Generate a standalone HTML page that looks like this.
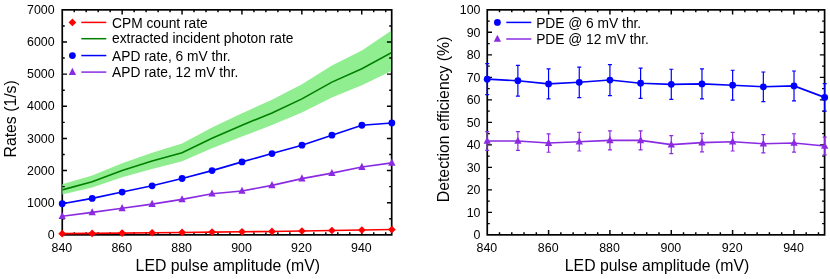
<!DOCTYPE html>
<html><head><meta charset="utf-8"><title>chart</title>
<style>html,body{margin:0;padding:0;background:#fff}body{width:830px;height:279px;overflow:hidden}</style></head>
<body>
<svg width="830" height="279" viewBox="0 0 830 279" style="display:block;will-change:transform;font-family:'Liberation Sans',sans-serif">
<rect width="830" height="279" fill="#fff"/>
<clipPath id="c1"><rect x="62.2" y="9.85" width="328.9" height="225"/></clipPath>
<rect x="62.25" y="9.85" width="329.45" height="225" fill="none" stroke="#000" stroke-width="1.7"/>
<g clip-path="url(#c1)"><polygon points="62.2,184.16 92.17,175.51 122.14,163.14 152.1,152.69 182.07,143.47 212.04,127.62 242.01,113.25 271.98,99.72 301.95,84.2 331.91,65.62 361.88,50.38 391.85,30.16 391.85,70.66 361.88,85.32 331.91,97.38 301.95,112.48 271.98,125.08 242.01,136.49 212.04,148.22 182.07,161.24 152.1,168.89 122.14,177.31 92.17,187.44 62.2,194.48" fill="#90ee90"/>
<polyline points="62.2,189.85 92.17,181.81 122.14,170.47 152.1,161.08 182.07,152.72 212.04,138.26 242.01,125.24 271.98,112.9 301.95,98.89 331.91,82.11 361.88,68.7 391.85,52.41" fill="none" stroke="#007f00" stroke-width="1.62"/></g>
<path d="M74.23 234.85v-2.5M74.23 9.85v2.5M86.21 234.85v-2.5M86.21 9.85v2.5M98.19 234.85v-2.5M98.19 9.85v2.5M110.17 234.85v-2.5M110.17 9.85v2.5M122.15 234.85v-4.75M122.15 9.85v4.75M134.13 234.85v-2.5M134.13 9.85v2.5M146.11 234.85v-2.5M146.11 9.85v2.5M158.09 234.85v-2.5M158.09 9.85v2.5M170.07 234.85v-2.5M170.07 9.85v2.5M182.05 234.85v-4.75M182.05 9.85v4.75M194.03 234.85v-2.5M194.03 9.85v2.5M206.01 234.85v-2.5M206.01 9.85v2.5M217.99 234.85v-2.5M217.99 9.85v2.5M229.97 234.85v-2.5M229.97 9.85v2.5M241.95 234.85v-4.75M241.95 9.85v4.75M253.93 234.85v-2.5M253.93 9.85v2.5M265.91 234.85v-2.5M265.91 9.85v2.5M277.89 234.85v-2.5M277.89 9.85v2.5M289.87 234.85v-2.5M289.87 9.85v2.5M301.85 234.85v-4.75M301.85 9.85v4.75M313.83 234.85v-2.5M313.83 9.85v2.5M325.81 234.85v-2.5M325.81 9.85v2.5M337.79 234.85v-2.5M337.79 9.85v2.5M349.77 234.85v-2.5M349.77 9.85v2.5M361.75 234.85v-4.75M361.75 9.85v4.75M373.73 234.85v-2.5M373.73 9.85v2.5M385.71 234.85v-2.5M385.71 9.85v2.5M62.25 218.78h2.5M391.7 218.78h-2.5M62.25 202.71h4.75M391.7 202.71h-4.75M62.25 186.64h2.5M391.7 186.64h-2.5M62.25 170.56h4.75M391.7 170.56h-4.75M62.25 154.49h2.5M391.7 154.49h-2.5M62.25 138.42h4.75M391.7 138.42h-4.75M62.25 122.35h2.5M391.7 122.35h-2.5M62.25 106.28h4.75M391.7 106.28h-4.75M62.25 90.21h2.5M391.7 90.21h-2.5M62.25 74.14h4.75M391.7 74.14h-4.75M62.25 58.06h2.5M391.7 58.06h-2.5M62.25 41.99h4.75M391.7 41.99h-4.75M62.25 25.92h2.5M391.7 25.92h-2.5" stroke="#000" stroke-width="1.45" fill="none"/>
<polyline points="62.2,203.77 92.17,198.4 122.14,192.04 152.1,185.8 182.07,178.5 212.04,170.6 242.01,161.89 271.98,153.56 301.95,145.17 331.91,135.21 361.88,125.24 391.85,122.99" fill="none" stroke="#0000ff" stroke-width="1.62"/>
<circle cx="62.2" cy="203.77" r="3.4" fill="#0000ff"/>
<circle cx="92.17" cy="198.4" r="3.4" fill="#0000ff"/>
<circle cx="122.14" cy="192.04" r="3.4" fill="#0000ff"/>
<circle cx="152.1" cy="185.8" r="3.4" fill="#0000ff"/>
<circle cx="182.07" cy="178.5" r="3.4" fill="#0000ff"/>
<circle cx="212.04" cy="170.6" r="3.4" fill="#0000ff"/>
<circle cx="242.01" cy="161.89" r="3.4" fill="#0000ff"/>
<circle cx="271.98" cy="153.56" r="3.4" fill="#0000ff"/>
<circle cx="301.95" cy="145.17" r="3.4" fill="#0000ff"/>
<circle cx="331.91" cy="135.21" r="3.4" fill="#0000ff"/>
<circle cx="361.88" cy="125.24" r="3.4" fill="#0000ff"/>
<circle cx="391.85" cy="122.99" r="3.4" fill="#0000ff"/>
<polyline points="62.2,216.24 92.17,212.41 122.14,208.3 152.1,204.12 182.07,199.4 212.04,193.68 242.01,190.97 271.98,185.35 301.95,178.6 331.91,173.14 361.88,167.03 391.85,162.85" fill="none" stroke="#8a2be2" stroke-width="1.62"/>
<path d="M62.2 211.99L65.85 219.09L58.55 219.09Z" fill="#8a2be2"/>
<path d="M92.17 208.16L95.82 215.26L88.52 215.26Z" fill="#8a2be2"/>
<path d="M122.14 204.05L125.79 211.15L118.49 211.15Z" fill="#8a2be2"/>
<path d="M152.1 199.87L155.75 206.97L148.45 206.97Z" fill="#8a2be2"/>
<path d="M182.07 195.15L185.72 202.25L178.42 202.25Z" fill="#8a2be2"/>
<path d="M212.04 189.43L215.69 196.53L208.39 196.53Z" fill="#8a2be2"/>
<path d="M242.01 186.72L245.66 193.82L238.36 193.82Z" fill="#8a2be2"/>
<path d="M271.98 181.1L275.63 188.2L268.33 188.2Z" fill="#8a2be2"/>
<path d="M301.95 174.35L305.6 181.45L298.3 181.45Z" fill="#8a2be2"/>
<path d="M331.91 168.89L335.56 175.99L328.26 175.99Z" fill="#8a2be2"/>
<path d="M361.88 162.78L365.53 169.88L358.23 169.88Z" fill="#8a2be2"/>
<path d="M391.85 158.6L395.5 165.7L388.2 165.7Z" fill="#8a2be2"/>
<polyline points="62.2,233.66 92.17,233.4 122.14,233.08 152.1,232.76 182.07,232.44 212.04,232.12 242.01,231.8 271.98,231.47 301.95,230.99 331.91,230.51 361.88,230.03 391.85,229.55" fill="none" stroke="#ff0000" stroke-width="1.62"/>
<path d="M62.2 229.81L66.05 233.66L62.2 237.51L58.35 233.66Z" fill="#ff0000"/>
<path d="M92.17 229.55L96.02 233.4L92.17 237.25L88.32 233.4Z" fill="#ff0000"/>
<path d="M122.14 229.23L125.99 233.08L122.14 236.93L118.29 233.08Z" fill="#ff0000"/>
<path d="M152.1 228.91L155.95 232.76L152.1 236.61L148.25 232.76Z" fill="#ff0000"/>
<path d="M182.07 228.59L185.92 232.44L182.07 236.29L178.22 232.44Z" fill="#ff0000"/>
<path d="M212.04 228.27L215.89 232.12L212.04 235.97L208.19 232.12Z" fill="#ff0000"/>
<path d="M242.01 227.95L245.86 231.8L242.01 235.65L238.16 231.8Z" fill="#ff0000"/>
<path d="M271.98 227.62L275.83 231.47L271.98 235.32L268.13 231.47Z" fill="#ff0000"/>
<path d="M301.95 227.14L305.8 230.99L301.95 234.84L298.1 230.99Z" fill="#ff0000"/>
<path d="M331.91 226.66L335.76 230.51L331.91 234.36L328.06 230.51Z" fill="#ff0000"/>
<path d="M361.88 226.18L365.73 230.03L361.88 233.88L358.03 230.03Z" fill="#ff0000"/>
<path d="M391.85 225.7L395.7 229.55L391.85 233.4L388 229.55Z" fill="#ff0000"/>
<g font-size="12.4" fill="#000">
<text x="61.85" y="251.7" text-anchor="middle">840</text>
<text x="121.75" y="251.7" text-anchor="middle">860</text>
<text x="181.65" y="251.7" text-anchor="middle">880</text>
<text x="241.55" y="251.7" text-anchor="middle">900</text>
<text x="301.45" y="251.7" text-anchor="middle">920</text>
<text x="361.35" y="251.7" text-anchor="middle">940</text>
<text x="54.65" y="239" text-anchor="end">0</text>
<text x="54.65" y="206.86" text-anchor="end">1000</text>
<text x="54.65" y="174.71" text-anchor="end">2000</text>
<text x="54.65" y="142.57" text-anchor="end">3000</text>
<text x="54.65" y="110.43" text-anchor="end">4000</text>
<text x="54.65" y="78.29" text-anchor="end">5000</text>
<text x="54.65" y="46.14" text-anchor="end">6000</text>
<text x="54.65" y="14" text-anchor="end">7000</text>
</g>
<g font-size="13.77" fill="#000">
<path d="M81.3 22.4H106.3" stroke="#ff0000" stroke-width="1.5"/>
<path d="M72.4 18.55L76.25 22.4L72.4 26.25L68.55 22.4Z" fill="#ff0000"/>
<text x="112.05" y="27.8">CPM count rate</text>
<path d="M81.3 38.7H106.3" stroke="#007f00" stroke-width="1.5"/>
<text x="112.05" y="43.05">extracted incident photon rate</text>
<path d="M81.3 55.55H106.3" stroke="#0000ff" stroke-width="1.5"/>
<circle cx="72.4" cy="55.55" r="3.4" fill="#0000ff"/>
<text x="112.05" y="61.05">APD rate, 6 mV thr.</text>
<path d="M81.3 72.1H106.3" stroke="#8a2be2" stroke-width="1.5"/>
<path d="M72.4 67.85L76.05 74.95L68.75 74.95Z" fill="#8a2be2"/>
<text x="112.05" y="76.75">APD rate, 12 mV thr.</text>
</g>
<text x="227.8" y="270.5" font-size="15.8" text-anchor="middle">LED pulse amplitude (mV)</text>
<text transform="translate(16.3 118.9) rotate(-90)" font-size="15.8" text-anchor="middle">Rates (1/s)</text>
<rect x="487.25" y="9.85" width="337.35" height="225" fill="none" stroke="#000" stroke-width="1.7"/>
<path d="M499.52 234.85v-2.5M499.52 9.85v2.5M511.78 234.85v-2.5M511.78 9.85v2.5M524.05 234.85v-2.5M524.05 9.85v2.5M536.32 234.85v-2.5M536.32 9.85v2.5M548.59 234.85v-4.75M548.59 9.85v4.75M560.85 234.85v-2.5M560.85 9.85v2.5M573.12 234.85v-2.5M573.12 9.85v2.5M585.39 234.85v-2.5M585.39 9.85v2.5M597.66 234.85v-2.5M597.66 9.85v2.5M609.92 234.85v-4.75M609.92 9.85v4.75M622.19 234.85v-2.5M622.19 9.85v2.5M634.46 234.85v-2.5M634.46 9.85v2.5M646.72 234.85v-2.5M646.72 9.85v2.5M658.99 234.85v-2.5M658.99 9.85v2.5M671.26 234.85v-4.75M671.26 9.85v4.75M683.53 234.85v-2.5M683.53 9.85v2.5M695.79 234.85v-2.5M695.79 9.85v2.5M708.06 234.85v-2.5M708.06 9.85v2.5M720.33 234.85v-2.5M720.33 9.85v2.5M732.6 234.85v-4.75M732.6 9.85v4.75M744.86 234.85v-2.5M744.86 9.85v2.5M757.13 234.85v-2.5M757.13 9.85v2.5M769.4 234.85v-2.5M769.4 9.85v2.5M781.66 234.85v-2.5M781.66 9.85v2.5M793.93 234.85v-4.75M793.93 9.85v4.75M806.2 234.85v-2.5M806.2 9.85v2.5M818.47 234.85v-2.5M818.47 9.85v2.5M487.25 223.6h2.5M824.6 223.6h-2.5M487.25 212.35h4.75M824.6 212.35h-4.75M487.25 201.1h2.5M824.6 201.1h-2.5M487.25 189.85h4.75M824.6 189.85h-4.75M487.25 178.6h2.5M824.6 178.6h-2.5M487.25 167.35h4.75M824.6 167.35h-4.75M487.25 156.1h2.5M824.6 156.1h-2.5M487.25 144.85h4.75M824.6 144.85h-4.75M487.25 133.6h2.5M824.6 133.6h-2.5M487.25 122.35h4.75M824.6 122.35h-4.75M487.25 111.1h2.5M824.6 111.1h-2.5M487.25 99.85h4.75M824.6 99.85h-4.75M487.25 88.6h2.5M824.6 88.6h-2.5M487.25 77.35h4.75M824.6 77.35h-4.75M487.25 66.1h2.5M824.6 66.1h-2.5M487.25 54.85h4.75M824.6 54.85h-4.75M487.25 43.6h2.5M824.6 43.6h-2.5M487.25 32.35h4.75M824.6 32.35h-4.75M487.25 21.1h2.5M824.6 21.1h-2.5" stroke="#000" stroke-width="1.45" fill="none"/>
<path d="M487.2 63.58V94.72M485.2 63.58h4M485.2 94.72h4M517.88 65.31V96.14M515.88 65.31h4M515.88 96.14h4M548.56 68.78V98.97M546.56 68.78h4M546.56 98.97h4M579.25 67.04V97.56M577.25 67.04h4M577.25 97.56h4M609.93 64.57V95.53M607.93 64.57h4M607.93 95.53h4M640.61 68.03V98.36M638.61 68.03h4M638.61 98.36h4M671.29 69.27V99.38M669.29 69.27h4M669.29 99.38h4M701.97 68.78V98.97M699.97 68.78h4M699.97 98.97h4M732.65 70.26V100.19M730.65 70.26h4M730.65 100.19h4M763.34 72V101.6M761.34 72h4M761.34 101.6h4M794.02 71V100.79M792.02 71h4M792.02 100.79h4M824.7 83.63V111.12M822.7 83.63h4M822.7 111.12h4" stroke="#0000ff" stroke-width="1.2" fill="none"/>
<polyline points="487.2,79.15 517.88,80.72 548.56,83.88 579.25,82.3 609.93,80.05 640.61,83.2 671.29,84.32 701.97,83.88 732.65,85.22 763.34,86.8 794.02,85.9 824.7,97.38" fill="none" stroke="#0000ff" stroke-width="1.62"/>
<circle cx="487.2" cy="79.15" r="3.4" fill="#0000ff"/>
<circle cx="517.88" cy="80.72" r="3.4" fill="#0000ff"/>
<circle cx="548.56" cy="83.88" r="3.4" fill="#0000ff"/>
<circle cx="579.25" cy="82.3" r="3.4" fill="#0000ff"/>
<circle cx="609.93" cy="80.05" r="3.4" fill="#0000ff"/>
<circle cx="640.61" cy="83.2" r="3.4" fill="#0000ff"/>
<circle cx="671.29" cy="84.32" r="3.4" fill="#0000ff"/>
<circle cx="701.97" cy="83.88" r="3.4" fill="#0000ff"/>
<circle cx="732.65" cy="85.22" r="3.4" fill="#0000ff"/>
<circle cx="763.34" cy="86.8" r="3.4" fill="#0000ff"/>
<circle cx="794.02" cy="85.9" r="3.4" fill="#0000ff"/>
<circle cx="824.7" cy="97.38" r="3.4" fill="#0000ff"/>
<path d="M487.2 131.64V150.41M485.2 131.64h4M485.2 150.41h4M517.88 131.64V150.41M515.88 131.64h4M515.88 150.41h4M548.56 133.87V152.23M546.56 133.87h4M546.56 152.23h4M579.25 132.38V151.01M577.25 132.38h4M577.25 151.01h4M609.93 130.9V149.8M607.93 130.9h4M607.93 149.8h4M640.61 130.9V149.8M638.61 130.9h4M638.61 149.8h4M671.29 135.6V153.65M669.29 135.6h4M669.29 153.65h4M701.97 133.38V151.82M699.97 133.38h4M699.97 151.82h4M732.65 132.38V151.01M730.65 132.38h4M730.65 151.01h4M763.34 134.61V152.84M761.34 134.61h4M761.34 152.84h4M794.02 133.75V152.13M792.02 133.75h4M792.02 152.13h4M824.7 137.09V154.86M822.7 137.09h4M822.7 154.86h4" stroke="#8a2be2" stroke-width="1.2" fill="none"/>
<polyline points="487.2,141.02 517.88,141.02 548.56,143.05 579.25,141.7 609.93,140.35 640.61,140.35 671.29,144.62 701.97,142.6 732.65,141.7 763.34,143.72 794.02,142.94 824.7,145.97" fill="none" stroke="#8a2be2" stroke-width="1.62"/>
<path d="M487.2 136.77L490.85 143.87L483.55 143.87Z" fill="#8a2be2"/>
<path d="M517.88 136.77L521.53 143.87L514.23 143.87Z" fill="#8a2be2"/>
<path d="M548.56 138.8L552.21 145.9L544.91 145.9Z" fill="#8a2be2"/>
<path d="M579.25 137.45L582.9 144.55L575.6 144.55Z" fill="#8a2be2"/>
<path d="M609.93 136.1L613.58 143.2L606.28 143.2Z" fill="#8a2be2"/>
<path d="M640.61 136.1L644.26 143.2L636.96 143.2Z" fill="#8a2be2"/>
<path d="M671.29 140.38L674.94 147.47L667.64 147.47Z" fill="#8a2be2"/>
<path d="M701.97 138.35L705.62 145.45L698.32 145.45Z" fill="#8a2be2"/>
<path d="M732.65 137.45L736.3 144.55L729 144.55Z" fill="#8a2be2"/>
<path d="M763.34 139.47L766.99 146.57L759.69 146.57Z" fill="#8a2be2"/>
<path d="M794.02 138.69L797.67 145.79L790.37 145.79Z" fill="#8a2be2"/>
<path d="M824.7 141.72L828.35 148.82L821.05 148.82Z" fill="#8a2be2"/>
<g font-size="12.4" fill="#000">
<text x="486.85" y="251.7" text-anchor="middle">840</text>
<text x="548.19" y="251.7" text-anchor="middle">860</text>
<text x="609.52" y="251.7" text-anchor="middle">880</text>
<text x="670.86" y="251.7" text-anchor="middle">900</text>
<text x="732.2" y="251.7" text-anchor="middle">920</text>
<text x="793.53" y="251.7" text-anchor="middle">940</text>
<text x="480.45" y="239" text-anchor="end">0</text>
<text x="480.45" y="216.5" text-anchor="end">10</text>
<text x="480.45" y="194" text-anchor="end">20</text>
<text x="480.45" y="171.5" text-anchor="end">30</text>
<text x="480.45" y="149" text-anchor="end">40</text>
<text x="480.45" y="126.5" text-anchor="end">50</text>
<text x="480.45" y="104" text-anchor="end">60</text>
<text x="480.45" y="81.5" text-anchor="end">70</text>
<text x="480.45" y="59" text-anchor="end">80</text>
<text x="480.45" y="36.5" text-anchor="end">90</text>
<text x="480.45" y="14" text-anchor="end">100</text>
</g>
<g font-size="13.77" fill="#000">
<path d="M506.3 22.41H531.3" stroke="#0000ff" stroke-width="1.5"/>
<circle cx="497.4" cy="22.41" r="3.4" fill="#0000ff"/>
<text x="536.2" y="27.5">PDE @ 6 mV thr.</text>
<path d="M506.3 39.0H531.3" stroke="#8a2be2" stroke-width="1.5"/>
<path d="M497.4 34.75L501.05 41.85L493.75 41.85Z" fill="#8a2be2"/>
<text x="536.2" y="43.7">PDE @ 12 mV thr.</text>
</g>
<text x="657" y="270.5" font-size="15.8" text-anchor="middle">LED pulse amplitude (mV)</text>
<text transform="translate(449 119.4) rotate(-90)" font-size="15.8" text-anchor="middle">Detection efficiency (%)</text>
</svg>
</body></html>
